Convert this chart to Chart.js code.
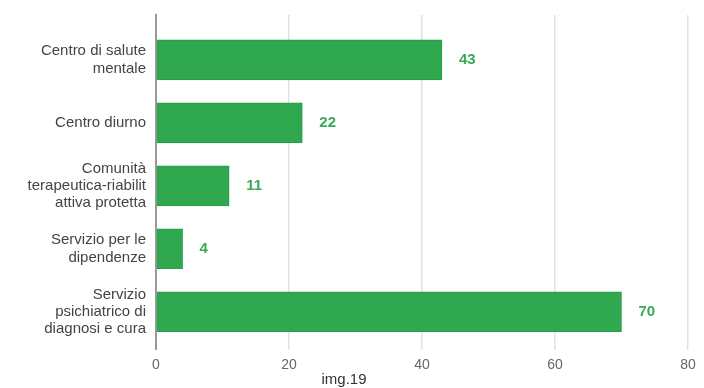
<!DOCTYPE html>
<html>
<head>
<meta charset="utf-8">
<script src="https://cdn.jsdelivr.net/npm/chart.js@4/dist/chart.umd.min.js"></script>
<style>
  body { margin: 0; background: #fff; }
  #wrap { width: 704px; height: 388px; }
</style>
</head>
<body>
<div id="wrap"><canvas id="servChart"></canvas></div>
<script>
// categories (multi-line) and values
const categories = [
    ['Centro di salute', 'mentale'],
    ['Centro diurno'],
    ['Comunità', 'terapeutica-riabilit', 'attiva protetta'],
    ['Servizio per le', 'dipendenze'],
    ['Servizio', 'psichiatrico di', 'diagnosi e cura']
];
const values = [43, 22, 11, 4, 70];
const xTicks = [0, 20, 40, 60, 80];

const barGreen = '#2fa84f';
const fontFam = '"Liberation Sans", Arial, sans-serif';

// value labels next to each bar
const valueLabels = {
    id: 'valueLabels',
    afterDatasetsDraw(chart) {
        const ctx = chart.ctx;
        const meta = chart.getDatasetMeta(0);
        ctx.save();
        ctx.font = 'bold 15px ' + fontFam;
        ctx.fillStyle = '#3aa957';
        ctx.textAlign = 'left';
        ctx.textBaseline = 'middle';
        meta.data.forEach((bar, i) => {
            ctx.fillText(String(values[i]), bar.x + 17, bar.y);
        });
        ctx.restore();
    }
};

const ctx = document.getElementById('servChart').getContext('2d');
new Chart(ctx, {
    type: 'bar',
    data: {
        datasets: [{
            data: values.map((v, i) => ({ x: v, y: i })),
            backgroundColor: barGreen,
            borderColor: '#2a9a48',
            borderWidth: 1,
            barThickness: 40
        }]
    },
    options: {
        indexAxis: 'y',
        responsive: true,
        maintainAspectRatio: false,
        animation: false,
        layout: { padding: { top: 15, right: 16, bottom: 0, left: 0 } },
        plugins: {
            legend: { display: false },
            tooltip: { enabled: false },
            title: {
                display: true,
                text: 'img.19',
                position: 'bottom',
                color: '#333',
                font: { family: fontFam, size: 15, weight: 'normal', lineHeight: 1.1 },
                padding: { top: 0, bottom: 0 }
            }
        },
        scales: {
            x: {
                type: 'linear',
                min: xTicks[0],
                max: xTicks[xTicks.length - 1],
                afterBuildTicks: (scale) => { scale.ticks = xTicks.map(v => ({ value: v })); },
                afterFit: (scale) => { scale.height = 22; },
                grid: { color: '#e2e2e2', lineWidth: 1.5, drawTicks: false },
                border: { display: false },
                ticks: {
                    padding: 7,
                    color: '#666',
                    font: { family: fontFam, size: 14 }
                }
            },
            y: {
                type: 'linear',
                reverse: true,
                offset: false,
                min: -0.714,
                max: 4.6,
                afterBuildTicks: (scale) => { scale.ticks = categories.map((c, i) => ({ value: i })); },
                afterFit: (scale) => {
                    scale.width = 156;
                    scale.paddingTop = 0;
                    scale.paddingBottom = 0;
                },
                grid: { display: false, drawTicks: false, offset: false },
                border: { display: true, color: '#9a9a9a', width: 2 },
                ticks: {
                    autoSkip: false,
                    padding: 10,
                    color: '#444',
                    font: { family: fontFam, size: 15, lineHeight: 1.15 },
                    callback: (v) => categories[v] || ''
                }
            }
        }
    },
    plugins: [valueLabels]
});
</script>
</body>
</html>
